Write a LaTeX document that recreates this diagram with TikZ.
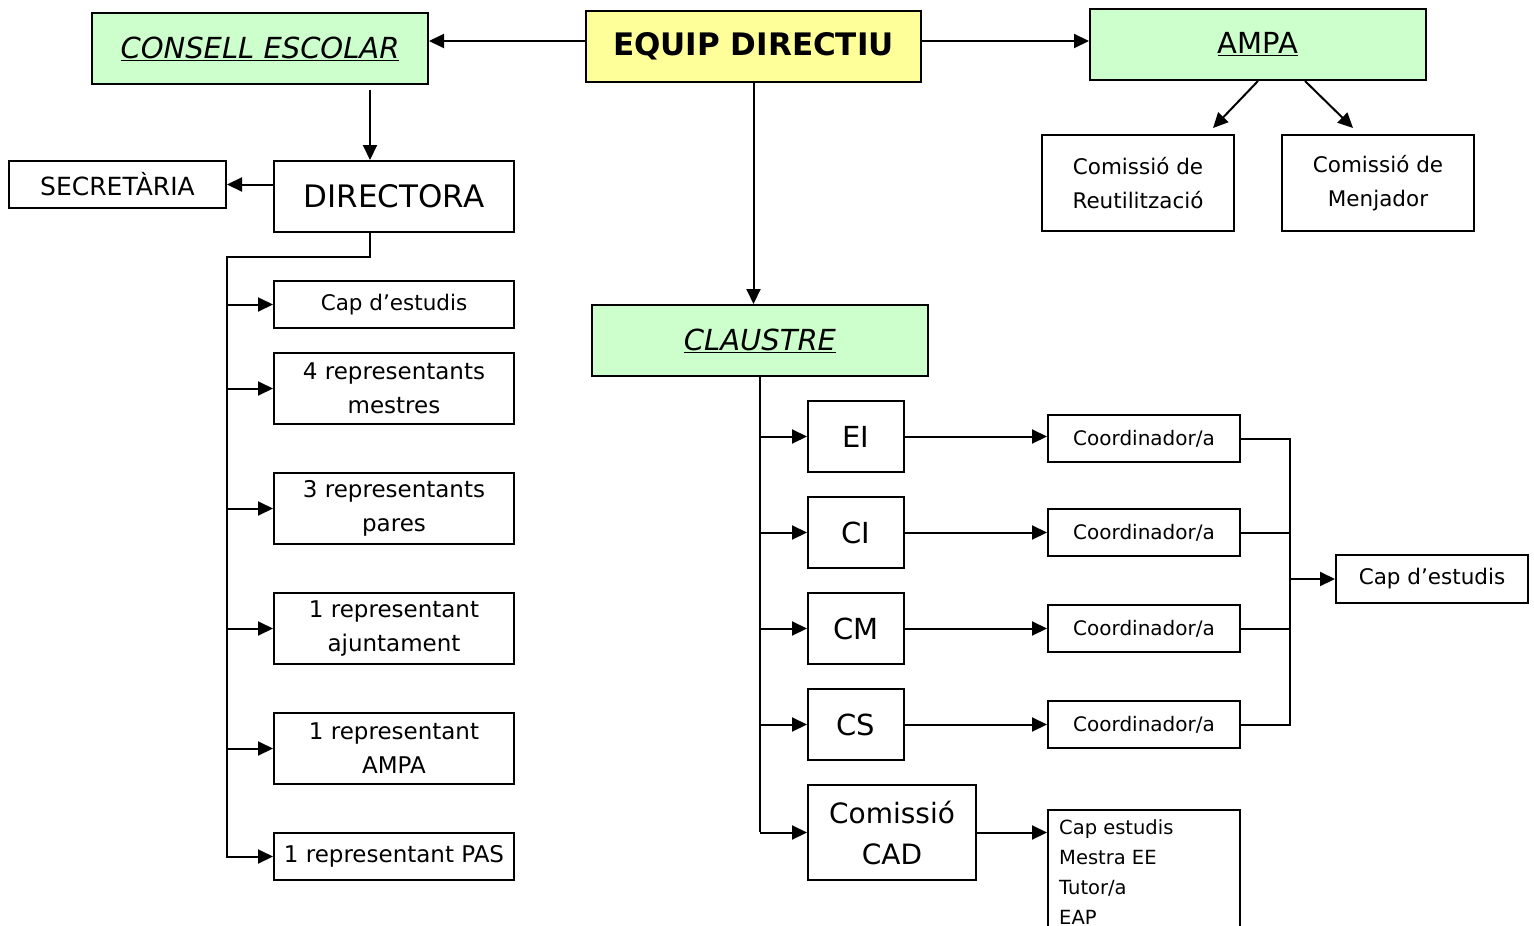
\documentclass[tikz,border=0pt]{standalone}
\usepackage{fontspec}
\setmainfont{DejaVu Sans}
\usetikzlibrary{arrows.meta}
\definecolor{lgreen}{HTML}{CCFFCC}
\definecolor{lyellow}{HTML}{FFFF99}
\begin{document}
\begin{tikzpicture}[x=1pt,y=-1pt,
  box/.style={draw=black,line width=2pt,inner sep=0pt,align=center},
  big/.style={font=\fontsize{29}{34}\selectfont},
  mid/.style={font=\fontsize{21.5}{34}\selectfont},
  sml/.style={font=\fontsize{20}{30}\selectfont},
  arr/.style={line width=2pt,-{Triangle[length=15pt,width=14pt]}},
  ln/.style={line width=2pt}]
\useasboundingbox (0,0) rectangle (1534,926);
\clip (0,0) rectangle (1534,926);
\fill[white] (0,0) rectangle (1534,926);
% top row
\node[box,big,fill=lgreen,minimum width=336pt,minimum height=71pt] (ce) at (260,48.5) {\itshape\underline{CONSELL ESCOLAR}};
\node[box,fill=lyellow,minimum width=335pt,minimum height=71pt,font=\fontsize{31}{34}\selectfont] (eq) at (753.5,46.5) {\bfseries EQUIP DIRECTIU};
\node[box,big,fill=lgreen,minimum width=336pt,minimum height=71pt] (am) at (1258,44.5) {\raisebox{3pt}{\underline{AMPA}}};
\node[box,mid,minimum width=192pt,minimum height=96pt] (reu) at (1138,183) {Comissió de\\Reutilització};
\node[box,mid,minimum width=192pt,minimum height=96pt] (men) at (1378,183) {Comissió de\\Menjador};
% left column
\node[box,minimum width=217pt,minimum height=47pt,font=\fontsize{25}{30}\selectfont] (sec) at (117.5,184.5) {SECRETÀRIA};
\node[box,big,minimum width=240pt,minimum height=71pt,font=\fontsize{31}{34}\selectfont] (dir) at (394,196.5) {DIRECTORA};
\node[box,mid,minimum width=240pt,minimum height=47pt] (l1) at (394,304.5) {Cap d’estudis};
\node[box,mid,minimum width=240pt,minimum height=71pt,font=\fontsize{23}{34}\selectfont] (l2) at (394,388.5) {4 representants\\mestres};
\node[box,mid,minimum width=240pt,minimum height=71pt,font=\fontsize{23}{34}\selectfont] (l3) at (394,508.5) {3 representants\\pares};
\node[box,mid,minimum width=240pt,minimum height=71pt,font=\fontsize{23}{34}\selectfont] (l4) at (394,628.5) {1 representant\\ajuntament};
\node[box,mid,minimum width=240pt,minimum height=71pt,font=\fontsize{23}{34}\selectfont] (l5) at (394,748.5) {1 representant\\AMPA};
\node[box,mid,minimum width=240pt,minimum height=47pt,font=\fontsize{23}{34}\selectfont] (l6) at (394,856.5) {1 representant PAS};
% claustre
\node[box,big,fill=lgreen,minimum width=336pt,minimum height=71pt] (cl) at (760,340.5) {\itshape\underline{CLAUSTRE}};
\node[box,big,minimum width=96pt,minimum height=71pt] (ei) at (856,436.5) {EI};
\node[box,big,minimum width=96pt,minimum height=71pt] (ci) at (856,532.5) {CI};
\node[box,big,minimum width=96pt,minimum height=71pt] (cm) at (856,628.5) {CM};
\node[box,big,minimum width=96pt,minimum height=71pt] (cs) at (856,724.5) {CS};
\node[box,big,minimum width=168pt,minimum height=95pt,font=\fontsize{28}{41}\selectfont] (cad) at (892,832.5) {Comissió\\CAD};
\node[box,sml,minimum width=192pt,minimum height=47pt] (c1) at (1144,438.5) {Coordinador/a};
\node[box,sml,minimum width=192pt,minimum height=47pt] (c2) at (1144,532.5) {Coordinador/a};
\node[box,sml,minimum width=192pt,minimum height=47pt] (c3) at (1144,628.5) {Coordinador/a};
\node[box,sml,minimum width=192pt,minimum height=47pt] (c4) at (1144,724.5) {Coordinador/a};
\node[box,mid,minimum width=192pt,minimum height=48pt] (cap) at (1432,579) {Cap d’estudis};
\node[box,minimum width=192pt,minimum height=140pt,anchor=north] (lst) at (1144,809) {};
\node[anchor=north west,align=left,inner sep=0pt,font=\fontsize{19.5}{30}\selectfont] (lsttxt) at ([xshift=12pt,yshift=-10pt]lst.north west) {Cap estudis\\Mestra EE\\Tutor/a\\EAP};
% connectors top
\draw[arr] ([yshift=5.5pt]eq.west) -- ([yshift=5.5pt]eq.west -| ce.east);
\draw[arr] ([yshift=5.5pt]eq.east) -- ([yshift=5.5pt]eq.east -| am.west);
\draw[arr] (eq.south) -- (cl.north -| eq.south);
\draw[arr] ([yshift=-5pt]ce.south -| 370,0) -- (dir.north -| 370,0);
\draw[arr] ([yshift=12pt]dir.west) -- ([yshift=12pt]dir.west -| sec.east);
\draw[arr] (am.south) -- ([xshift=-22pt,yshift=6pt]reu.north east);
\draw[arr] ([xshift=47pt]am.south) -- ([xshift=-25pt,yshift=6pt]men.north);
% directora tree
\coordinate (dt) at (370,257);
\draw[ln] (dir.south -| dt) -- (dt) -- (227,257) -- (227,858);
\foreach \n in {l1,l2,l3,l4,l5,l6}{\draw[arr] (\n.west -| 227,0) -- (\n.west);}
% claustre tree
\draw[ln] (cl.south -| 760,0) -- (760,832);
\foreach \n in {ei,ci,cm,cs,cad}{\draw[arr] (\n.west -| 760,0) -- (\n.west);}
\draw[arr] (ei.east) -- (ei.east -| c1.west);
\draw[arr] (ci.east) -- (ci.east -| c2.west);
\draw[arr] (cm.east) -- (cm.east -| c3.west);
\draw[arr] (cs.east) -- (cs.east -| c4.west);
\draw[arr] (cad.east) -- (cad.east -| lst.west);
\draw[ln] (c1.east) -- (c1.east -| 1290,0) -- (c4.east -| 1290,0) -- (c4.east);
\draw[ln] (c2.east) -- (c2.east -| 1290,0);
\draw[ln] (c3.east) -- (c3.east -| 1290,0);
\draw[arr] (cap.west -| 1290,0) -- (cap.west);
\end{tikzpicture}
\end{document}
